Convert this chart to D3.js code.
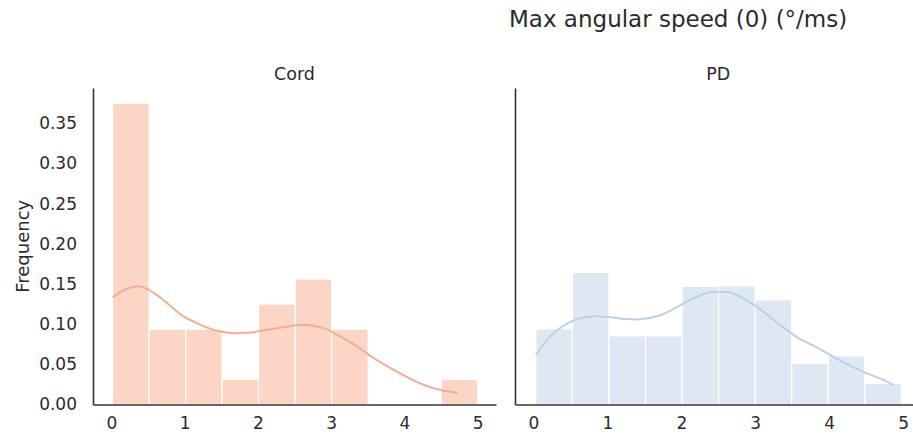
<!DOCTYPE html>
<html>
<head>
<meta charset="utf-8">
<script src="https://cdn.jsdelivr.net/npm/d3@7"></script>
<style>
  html, body { margin: 0; padding: 0; background: #fff; }
  svg { display: block; font-family: "DejaVu Sans", sans-serif; }
</style>
</head>
<body>
<svg id="chart" width="913" height="438"></svg>
<script>
// Histogram bins (probability per bin) and KDE curves for each group
const groups = ["Cord", "PD"];

const cordEdges = [0.018, 0.516, 1.014, 1.512, 2.010, 2.509, 3.007, 3.505, 4.003, 4.501, 5.0];
const cordFreq = [0.375, 0.09375, 0.09375, 0.03125, 0.125, 0.15625, 0.09375, 0, 0, 0.03125];
const cordKdeX = [0.018, 0.20, 0.396, 0.58, 0.761, 0.988, 1.216, 1.444, 1.671, 1.899, 2.127, 2.354, 2.627, 2.900, 3.128, 3.357, 3.583, 3.811, 4.040, 4.266, 4.494, 4.723];
const cordKdeY = [0.1333, 0.1435, 0.147, 0.139, 0.1263, 0.1096, 0.0992, 0.0917, 0.0888, 0.0896, 0.0930, 0.0963, 0.0992, 0.0951, 0.0846, 0.0721, 0.0576, 0.0452, 0.0339, 0.0243, 0.0181, 0.0147];

const pdEdges = [0.032, 0.526, 1.021, 1.515, 2.010, 2.504, 2.998, 3.493, 3.987, 4.482, 4.976];
const pdFreq = [0.0942, 0.1645, 0.0855, 0.0855, 0.147, 0.148, 0.1304, 0.0514, 0.0605, 0.0265];
const pdKdeX = [0.032, 0.271, 0.564, 0.790, 1.015, 1.241, 1.467, 1.691, 1.917, 2.143, 2.368, 2.594, 2.685, 2.909, 3.135, 3.361, 3.586, 3.812, 4.038, 4.262, 4.488, 4.714, 4.871];
const pdKdeY = [0.0618, 0.0888, 0.1054, 0.1096, 0.1088, 0.1063, 0.1063, 0.1104, 0.1200, 0.1313, 0.1395, 0.1400, 0.1388, 0.1283, 0.1138, 0.0971, 0.0826, 0.0721, 0.0605, 0.0493, 0.0397, 0.0314, 0.0243];

const xTicks = [0, 1, 2, 3, 4, 5];
const yTicks = [0, 0.05, 0.10, 0.15, 0.20, 0.25, 0.30, 0.35];

const titleText = "Max angular speed (0) (°/ms)";
const yLabel = "Frequency";

const palette = {
  Cord: { bar: "#fbd6c7", line: "#f2ae93" },
  PD:   { bar: "#dee8f5", line: "#bcd0e8" }
};

const panels = [
  { name: "Cord", edges: cordEdges, freq: cordFreq, kx: cordKdeX, ky: cordKdeY, x0: 93, x1: 496 },
  { name: "PD",   edges: pdEdges,   freq: pdFreq,   kx: pdKdeX,   ky: pdKdeY,   x0: 515, x1: 921.6 }
];

const svg = d3.select("#chart");
const plotTop = 88, plotBottom = 404.5;
const textColor = "#2b2b2b";

const y = d3.scaleLinear().domain([0, 0.394]).range([plotBottom, plotTop]);

panels.forEach((p, i) => {
  const x = d3.scaleLinear().domain([-0.25, 5.25]).range([p.x0, p.x1]);
  const g = svg.append("g");
  const bins = p.freq.map((v, k) => ({ a: p.edges[k], b: p.edges[k + 1], v }));

  g.selectAll("rect.bar").data(bins).join("rect")
    .attr("class", "bar")
    .attr("x", d => x(d.a))
    .attr("width", d => x(d.b) - x(d.a))
    .attr("y", d => y(d.v))
    .attr("height", d => y(0) - y(d.v))
    .attr("fill", palette[p.name].bar)
    .attr("stroke", "#fff")
    .attr("stroke-width", 1.2);

  const pts = p.kx.map((v, k) => [v, p.ky[k]]);
  g.append("path")
    .datum(pts)
    .attr("d", d3.line().x(d => x(d[0])).y(d => y(d[1])).curve(d3.curveCatmullRom))
    .attr("fill", "none")
    .attr("stroke", palette[p.name].line)
    .attr("stroke-width", 2);

  // x axis
  const xa = g.append("g").attr("transform", `translate(0,${plotBottom})`)
    .call(d3.axisBottom(x).tickValues(xTicks).tickFormat(d3.format("d")).tickSize(0).tickPadding(12));
  xa.select(".domain").attr("stroke", "#333").attr("stroke-width", 1.6);
  xa.selectAll("text").attr("font-size", "17px").attr("fill", textColor)
    .attr("font-family", "DejaVu Sans, sans-serif");

  // y axis
  const ya = g.append("g").attr("transform", `translate(${p.x0},0)`)
    .call(d3.axisLeft(y).tickValues(yTicks).tickFormat(d3.format(".2f")).tickSize(0).tickPadding(16));
  ya.select(".domain").attr("stroke", "#333").attr("stroke-width", 1.6);
  ya.selectAll("text").attr("font-size", "17px").attr("fill", textColor)
    .attr("font-family", "DejaVu Sans, sans-serif");
  if (i > 0) ya.selectAll(".tick").remove();

  g.append("text")
    .attr("x", (p.x0 + p.x1) / 2)
    .attr("y", 80)
    .attr("text-anchor", "middle")
    .attr("font-size", "17.5px")
    .attr("fill", textColor)
    .text(p.name);
});

svg.append("text")
  .attr("transform", `translate(29,${(plotTop + plotBottom) / 2}) rotate(-90)`)
  .attr("text-anchor", "middle")
  .attr("font-size", "18px")
  .attr("fill", textColor)
  .text(yLabel);

svg.append("text")
  .attr("x", 509)
  .attr("y", 27)
  .attr("font-size", "23px")
  .attr("fill", textColor)
  .text(titleText);
</script>
</body>
</html>
